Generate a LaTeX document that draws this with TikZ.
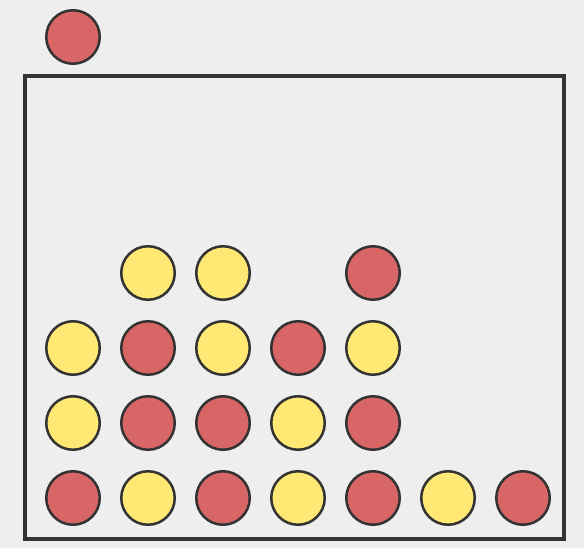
\documentclass[tikz,border=0pt]{standalone}
\definecolor{bg}{HTML}{EEEEEE}
\definecolor{edge}{HTML}{333333}
\definecolor{redp}{HTML}{D96666}
\definecolor{yelp}{HTML}{FFE873}
\tikzset{
  disc/.style={circle, draw=edge, line width=2.5pt, minimum size=53.5pt, inner sep=0pt},
  rd/.style={disc, fill=redp},
  yl/.style={disc, fill=yelp},
}
\begin{document}
\begin{tikzpicture}[x=1pt,y=-1pt]
\fill[bg] (0,0) rectangle (584,548);
\useasboundingbox (0,0) rectangle (584,548);
\draw[edge, line width=4pt] (25,76) rectangle (564,539);
\node[rd] (top) at (73,37) {};
% row 0 (bottom)
\node[rd] (a0) at (73,498) {};
\node[yl] (b0) at (148,498) {};
\node[rd] (c0) at (223,498) {};
\node[yl] (d0) at (298,498) {};
\node[rd] (e0) at (373,498) {};
\node[yl] (f0) at (448,498) {};
\node[rd] (g0) at (523,498) {};
% row 1
\node[yl] (a1) at (73,423) {};
\node[rd] (b1) at (148,423) {};
\node[rd] (c1) at (223,423) {};
\node[yl] (d1) at (298,423) {};
\node[rd] (e1) at (373,423) {};
% row 2
\node[yl] (a2) at (73,348) {};
\node[rd] (b2) at (148,348) {};
\node[yl] (c2) at (223,348) {};
\node[rd] (d2) at (298,348) {};
\node[yl] (e2) at (373,348) {};
% row 3
\node[yl] (b3) at (148,273) {};
\node[yl] (c3) at (223,273) {};
\node[rd] (e3) at (373,273) {};
\end{tikzpicture}
\end{document}
